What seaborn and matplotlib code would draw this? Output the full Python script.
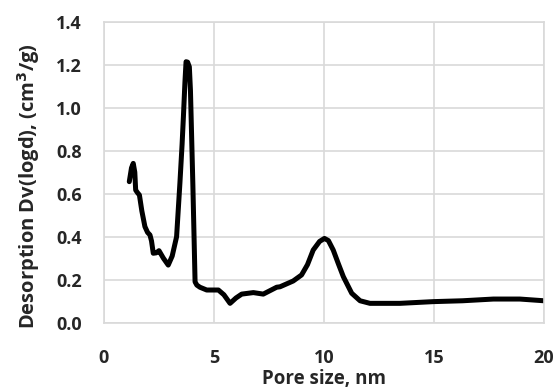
import matplotlib
matplotlib.use("Agg")
import matplotlib.pyplot as plt
import seaborn as sns
import pandas as pd

# pore size (nm) and desorption dV/dlogD (cm3/g)
pore_size = [1.15, 1.25, 1.33, 1.40, 1.44, 1.52, 1.61, 1.72, 1.86, 1.98, 2.09, 2.16,
             2.24, 2.38, 2.50, 2.70, 2.92, 3.10, 3.30, 3.45, 3.55, 3.61, 3.68, 3.73,
             3.80, 3.88, 3.93, 3.98, 4.04, 4.09, 4.14, 4.22, 4.36, 4.67, 5.20, 5.45,
             5.73, 6.00, 6.26, 6.79, 7.24, 7.85, 8.00, 8.60, 8.98, 9.25, 9.51, 9.80,
             10.02, 10.20, 10.42, 10.65, 10.88, 11.26, 11.64, 12.09, 13.45, 14.97, 16.30,
             17.70, 18.90, 20.00]
dv_logd = [0.656, 0.720, 0.741, 0.700, 0.617, 0.605, 0.594, 0.520, 0.447, 0.420, 0.408,
           0.380, 0.323, 0.325, 0.335, 0.300, 0.268, 0.310, 0.400, 0.648, 0.830, 0.958,
           1.120, 1.214, 1.212, 1.190, 1.080, 0.880, 0.640, 0.416, 0.190, 0.175, 0.165,
           0.152, 0.152, 0.130, 0.090, 0.115, 0.133, 0.140, 0.133, 0.165, 0.167, 0.194,
           0.222, 0.270, 0.338, 0.378, 0.392, 0.382, 0.338, 0.275, 0.214, 0.137, 0.102,
           0.090, 0.090, 0.098, 0.102, 0.110, 0.110, 0.102]

df = pd.DataFrame({"pore": pore_size, "dv": dv_logd})

sns.set_theme(style="whitegrid")
plt.rcParams["font.family"] = ["Open Sans", "DejaVu Sans"]
plt.rcParams["font.weight"] = "bold"

fig = plt.figure(figsize=(5.6, 3.92), dpi=100)
ax = fig.add_axes([0.1857, 0.1768, 0.7857, 0.7678])

sns.lineplot(data=df, x="pore", y="dv", color="black", linewidth=3.6,
             sort=False, estimator=None, ax=ax)

ax.set_xlim(0, 20)
ax.set_ylim(0, 1.4)
ax.set_xticks([0, 5, 10, 15, 20])
ax.set_yticks([0.0, 0.2, 0.4, 0.6, 0.8, 1.0, 1.2, 1.4])
ax.set_yticklabels([f"{v:.1f}" for v in ax.get_yticks()])
ax.grid(True, color="#d9d9d9", linewidth=1.2)
for s in ax.spines.values():
    s.set_color("#d9d9d9")
    s.set_linewidth(1.2)
ax.tick_params(axis="x", pad=19, labelsize=13, length=0)
ax.tick_params(axis="y", pad=16, labelsize=13, length=0)
for lab in ax.get_xticklabels() + ax.get_yticklabels():
    lab.set_fontweight("bold")

ax.set_xlabel("Pore size, nm", fontsize=13.5, fontweight="bold")
ax.xaxis.set_label_coords(0.5, -0.155)
ax.set_ylabel("Desorption Dv(logd), (cm$^3$/g)", fontsize=14.5, fontweight="bold")
ax.yaxis.set_label_coords(-0.14, 0.455)

fig.savefig("out.png", dpi=100)
